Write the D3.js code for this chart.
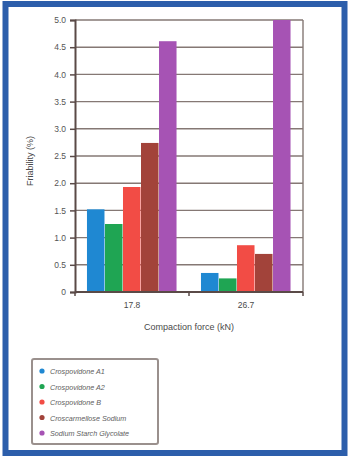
<!DOCTYPE html>
<html>
<head>
<meta charset="utf-8">
<script src="https://cdn.jsdelivr.net/npm/d3@7/dist/d3.min.js"></script>
<style>
  html, body { margin: 0; padding: 0; background: #fff; }
  svg { display: block; }
  text { font-family: "Liberation Sans", Arial, sans-serif; fill: #4a4a4a; }
</style>
</head>
<body>
<svg id="chart" width="350" height="457"></svg>
<script>
// Friability by compaction force for five disintegrants
const forces = ["17.8", "26.7"];
const seriesNames = [
  "Crospovidone A1",
  "Crospovidone A2",
  "Crospovidone B",
  "Croscarmellose Sodium",
  "Sodium Starch Glycolate"
];
const seriesColors = ["#1f88d2", "#1fa553", "#f24c45", "#a2433a", "#a653b4"];
const crospovidoneA1 = [1.52, 0.35];
const crospovidoneA2 = [1.25, 0.25];
const crospovidoneB = [1.93, 0.86];
const croscarmellose = [2.74, 0.70];
const sodiumStarch = [4.61, 5.00];
const seriesValues = [crospovidoneA1, crospovidoneA2, crospovidoneB, croscarmellose, sodiumStarch];
const yTicks = [0, 0.5, 1.0, 1.5, 2.0, 2.5, 3.0, 3.5, 4.0, 4.5, 5.0];

const svg = d3.select("#chart");

// outer blue frame
svg.append("rect")
  .attr("x", 5.5).attr("y", 4).attr("width", 339).attr("height", 449)
  .attr("fill", "#fff").attr("stroke", "#2c5eab").attr("stroke-width", 6);

const plot = { left: 75, right: 303, top: 20, bottom: 292 };

const x0 = d3.scaleBand().domain(forces)
  .range([plot.left, plot.right]).paddingInner(0.21).paddingOuter(0.105);
const x1 = d3.scaleBand().domain(d3.range(seriesNames.length))
  .range([0, x0.bandwidth()]);
const y = d3.scaleLinear().domain([0, 5]).range([plot.bottom, plot.top]);

// horizontal gridlines
svg.append("g").selectAll("line").data(yTicks.filter(t => t > 0)).join("line")
  .attr("x1", plot.left).attr("x2", plot.right)
  .attr("y1", d => y(d)).attr("y2", d => y(d))
  .attr("stroke", "#857874").attr("stroke-width", 1.4);

// right border of plot area
svg.append("line")
  .attr("x1", plot.right).attr("x2", plot.right)
  .attr("y1", plot.top).attr("y2", plot.bottom)
  .attr("stroke", "#857874").attr("stroke-width", 1.4);

// bars
const groups = svg.append("g").selectAll("g").data(forces).join("g")
  .attr("transform", d => `translate(${x0(d)},0)`);
groups.selectAll("rect")
  .data((f, ci) => seriesValues.map((vals, si) => ({ si, v: vals[ci] })))
  .join("rect")
  .attr("x", d => x1(d.si))
  .attr("width", x1.bandwidth() - 0.5)
  .attr("y", d => y(d.v))
  .attr("height", d => y(0) - y(d.v))
  .attr("fill", d => seriesColors[d.si]);

// y axis
const yAxis = d3.axisLeft(y).tickValues(yTicks)
  .tickFormat(d => d === 0 ? "0" : d3.format(".1f")(d))
  .tickSize(5).tickPadding(4);
const gy = svg.append("g").attr("transform", `translate(${plot.left},0)`).call(yAxis);
gy.select(".domain").attr("stroke", "#5a4a47").attr("stroke-width", 2);
gy.selectAll(".tick line").attr("stroke", "#5a4a47").attr("stroke-width", 1.5);
gy.selectAll(".tick text").attr("font-size", 8.5).style("fill", "#555")
  .attr("font-family", "Liberation Sans, Arial, sans-serif");

// x axis with ticks between categories
const gx = svg.append("g").attr("transform", `translate(0,${plot.bottom})`);
gx.append("line").attr("x1", plot.left).attr("x2", plot.right)
  .attr("stroke", "#5a4a47").attr("stroke-width", 2);
const boundaries = [plot.left, x0(forces[1]) - x0.step() * x0.paddingInner() / 2, plot.right];
gx.selectAll("line.tk").data(boundaries).join("line").attr("class", "tk")
  .attr("x1", d => d).attr("x2", d => d).attr("y1", 0).attr("y2", 4)
  .attr("stroke", "#5a4a47").attr("stroke-width", 1.5);
gx.selectAll("text").data(forces).join("text")
  .attr("x", d => x0(d) + x0.bandwidth() / 2).attr("y", 16)
  .attr("text-anchor", "middle").attr("font-size", 8.5)
  .text(d => d);

// axis titles
svg.append("text")
  .attr("transform", `translate(33,${(plot.top + plot.bottom) / 2 + 5}) rotate(-90)`)
  .attr("text-anchor", "middle").attr("font-size", 9)
  .text("Friability (%)");
svg.append("text")
  .attr("x", (plot.left + plot.right) / 2).attr("y", 330)
  .attr("text-anchor", "middle").attr("font-size", 9)
  .text("Compaction force (kN)");

// legend
const legend = svg.append("g").attr("transform", "translate(32,359)");
legend.append("rect").attr("x", 0).attr("y", 0).attr("width", 126).attr("height", 85)
  .attr("fill", "#fff").attr("stroke", "#9a908d").attr("stroke-width", 2).attr("rx", 2);
const items = legend.selectAll("g").data(seriesNames).join("g")
  .attr("transform", (d, i) => `translate(10,${12 + i * 15.5})`);
items.append("circle").attr("r", 2.6).attr("fill", (d, i) => seriesColors[i]);
items.append("text").attr("x", 8).attr("y", 3)
  .attr("font-size", 7.2).attr("font-style", "italic").style("fill", "#5e5e5e")
  .text(d => d);
</script>
</body>
</html>
